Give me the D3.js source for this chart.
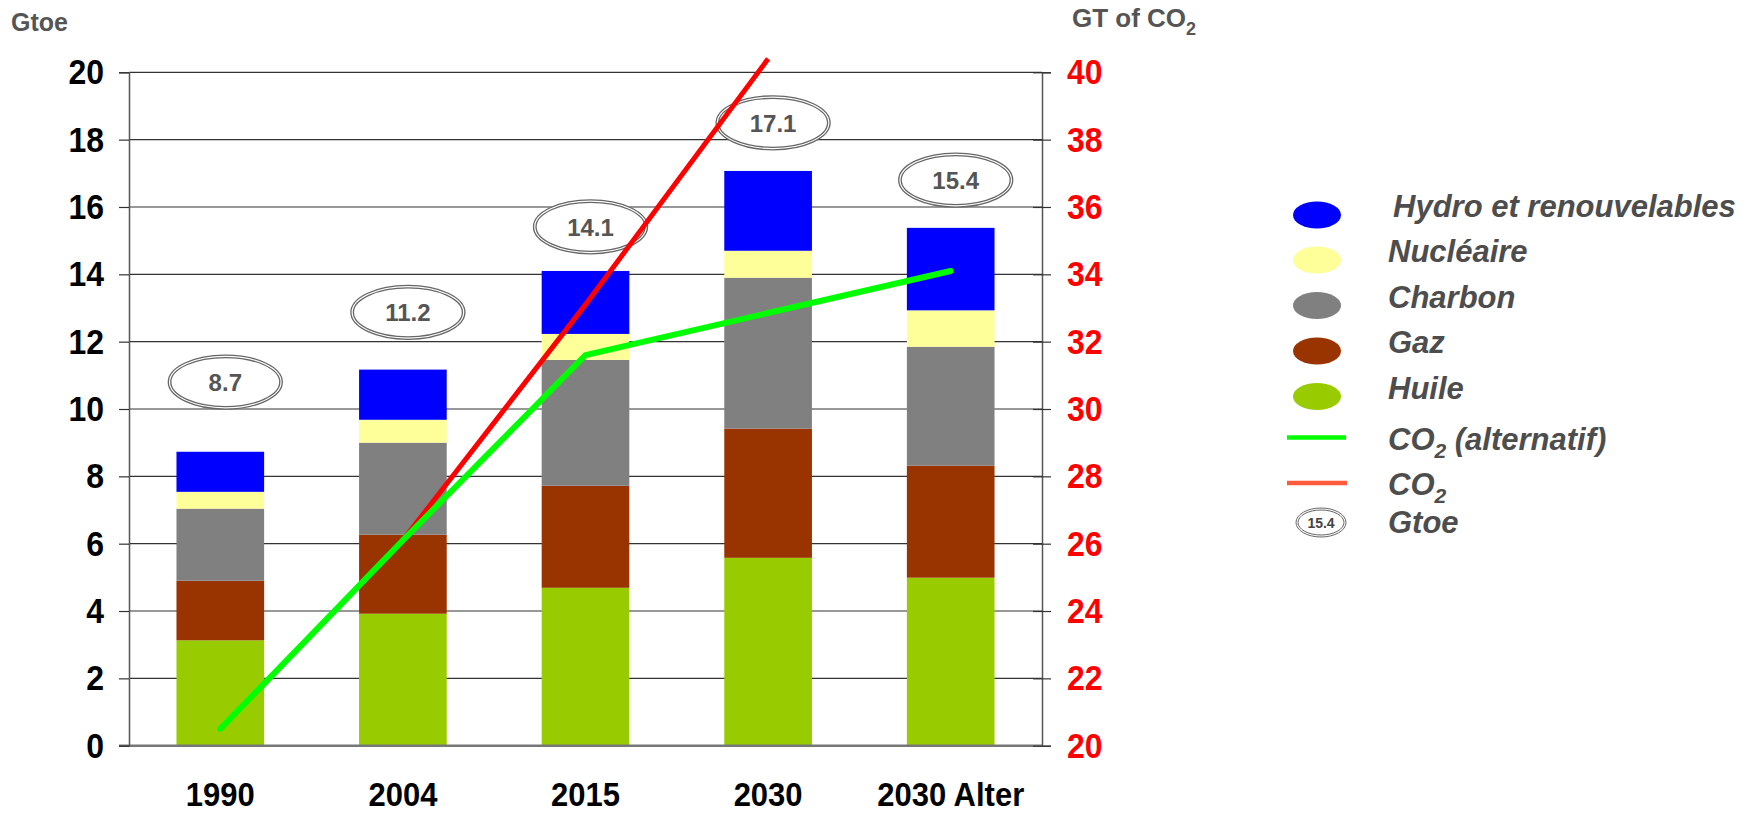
<!DOCTYPE html>
<html>
<head>
<meta charset="utf-8">
<script src="https://cdn.jsdelivr.net/npm/d3@7"></script>
<style>
  body { margin: 0; background: #fff; }
  svg text { font-family: "Liberation Sans", Arial, sans-serif; }
</style>
</head>
<body>
<script>
// Data (Gtoe per source, Gt CO2 on right axis)
var categories = ["1990", "2004", "2015", "2030", "2030 Alter"];
var huile     = [3.13, 3.92, 4.69, 5.58, 4.99];
var gaz       = [1.77, 2.35, 3.03, 3.84, 3.33];
var charbon   = [2.14, 2.73, 3.74, 4.48, 3.53];
var nucleaire = [0.50, 0.68, 0.77, 0.80, 1.08];
var hydro     = [1.19, 1.49, 1.87, 2.37, 2.45];
var totals    = [8.7, 11.2, 14.1, 17.1, 15.4];
var co2Ref    = [null, 26.1, 33.1, 40.4, null];
var co2Alt    = [20.5, 26.1, 31.6, null, 34.1];
var leftTicks  = [0, 2, 4, 6, 8, 10, 12, 14, 16, 18, 20];
var rightTicks = [20, 22, 24, 26, 28, 30, 32, 34, 36, 38, 40];

var keys = ["huile", "gaz", "charbon", "nucleaire", "hydro"];
var colors = { huile: "#99cc00", gaz: "#993300", charbon: "#808080", nucleaire: "#ffff99", hydro: "#0000ff" };

// how far the total badge sits above each bar (layout)
var badgeLift = [2.1, 1.67, 1.31, 1.4, 1.4];

var width = 1750, height = 814;
var plotLeft = 129, plotRight = 1042, plotTop = 72.3, plotBottom = 745.7;

var svg = d3.select("body").append("svg")
    .attr("width", width)
    .attr("height", height);

var x = d3.scaleBand().domain(categories).range([plotLeft, plotRight]).paddingInner(0.52).paddingOuter(0.26);
var y = d3.scaleLinear().domain([0, 20]).range([plotBottom, plotTop]);
var yR = d3.scaleLinear().domain([20, 40]).range([plotBottom, plotTop]);

var table = categories.map(function(c, i) {
    return { cat: c, huile: huile[i], gaz: gaz[i], charbon: charbon[i], nucleaire: nucleaire[i], hydro: hydro[i] };
});

/*gridlines*/
svg.append("g").selectAll("line")
    .data(leftTicks.filter(function(d) { return d > 0; }))
    .enter().append("line")
    .attr("x1", plotLeft).attr("x2", plotRight)
    .attr("y1", function(d) { return y(d); })
    .attr("y2", function(d) { return y(d); })
    .attr("stroke", "#333").attr("stroke-width", 1.2);

/*stacked bars*/
var stack = d3.stack().keys(keys)(table);
svg.append("g").selectAll("g")
    .data(stack)
    .enter().append("g")
    .attr("fill", function(d) { return colors[d.key]; })
    .selectAll("rect")
    .data(function(d) { return d; })
    .enter().append("rect")
    .attr("x", function(d) { return x(d.data.cat); })
    .attr("width", x.bandwidth())
    .attr("y", function(d) { return y(d[1]); })
    .attr("height", function(d) { return y(d[0]) - y(d[1]); });

/*baseline*/
svg.append("line")
    .attr("x1", plotLeft - 10).attr("x2", plotRight)
    .attr("y1", y(0)).attr("y2", y(0))
    .attr("stroke", "#777").attr("stroke-width", 2.5);

/*left axis*/
var axL = svg.append("g")
    .attr("transform", "translate(" + plotLeft + ",0)")
    .call(d3.axisLeft(y).tickValues(leftTicks).tickSize(10).tickPadding(15));
axL.select(".domain").attr("stroke", "#555").attr("stroke-width", 1.5);
axL.selectAll(".tick line").attr("stroke", "#333").attr("stroke-width", 1.2);
axL.selectAll("text")
    .attr("font-size", 32).attr("font-weight", "bold").attr("fill", "#000")
    .attr("font-family", "'Liberation Sans', Arial, sans-serif")
    .attr("transform", "scale(1,1.12)");

/*right axis*/
var axR = svg.append("g")
    .attr("transform", "translate(" + plotRight + ",0)")
    .call(d3.axisRight(yR).tickValues(rightTicks).tickSize(9).tickPadding(16));
axR.select(".domain").attr("stroke", "#555").attr("stroke-width", 1.5);
axR.selectAll(".tick line").attr("x1", -9).attr("stroke", "#333").attr("stroke-width", 1.2);
axR.selectAll("text")
    .attr("font-size", 32).attr("font-weight", "bold").attr("fill", "#ff0000")
    .attr("font-family", "'Liberation Sans', Arial, sans-serif")
    .attr("transform", "scale(1,1.12)");

/*category labels*/
svg.append("g").selectAll("text")
    .data(categories)
    .enter().append("text")
    .attr("transform", function(d) { return "translate(" + (x(d) + x.bandwidth() / 2) + ",806) scale(1,1.1)"; })
    .attr("text-anchor", "middle")
    .attr("font-size", 31).attr("font-weight", "bold")
    .text(function(d) { return d; });

/*total badges*/
var badges = svg.append("g").selectAll("g")
    .data(totals)
    .enter().append("g")
    .attr("transform", function(d, i) {
        return "translate(" + (x(categories[i]) + x.bandwidth() / 2 + 5) + "," + y(d + badgeLift[i]) + ")";
    });
badges.append("ellipse").attr("rx", 57).attr("ry", 27)
    .attr("fill", "#fff").attr("stroke", "#666").attr("stroke-width", 1.3);
badges.append("ellipse").attr("rx", 54.5).attr("ry", 24.5)
    .attr("fill", "none").attr("stroke", "#666").attr("stroke-width", 1.3);
badges.append("text")
    .attr("text-anchor", "middle").attr("dy", 9)
    .attr("font-size", 24).attr("font-weight", "bold").attr("fill", "#555")
    .text(function(d) { return d.toFixed(1); });

/*CO2 lines*/
var line = d3.line()
    .x(function(d) { return x(d.cat) + x.bandwidth() / 2; })
    .y(function(d) { return yR(d.v); });

function pts(arr) {
    return categories.map(function(c, i) { return { cat: c, v: arr[i] }; })
        .filter(function(d) { return d.v != null; });
}

svg.append("path").datum(pts(co2Ref))
    .attr("d", line).attr("fill", "none")
    .attr("stroke", "#ff0000").attr("stroke-width", 5);

svg.append("path").datum(pts(co2Alt))
    .attr("d", line).attr("fill", "none")
    .attr("stroke", "#00ff00").attr("stroke-width", 6)
    .attr("stroke-linecap", "round").attr("stroke-linejoin", "round");

/*axis titles*/
svg.append("text").attr("x", 11).attr("y", 31)
    .attr("font-size", 25).attr("font-weight", "bold").attr("fill", "#555")
    .text("Gtoe");
var t2 = svg.append("text").attr("x", 1072).attr("y", 27)
    .attr("font-size", 26).attr("font-weight", "bold").attr("fill", "#555");
t2.append("tspan").text("GT of CO");
t2.append("tspan").attr("font-size", 18).attr("dy", 8).text("2");

/*legend*/
var legendNames = ["Hydro et renouvelables", "Nucléaire", "Charbon", "Gaz", "Huile"];
var legendKeys = ["hydro", "nucleaire", "charbon", "gaz", "huile"];
var legendY = [215, 260, 305.5, 351, 396.5];
var lg = svg.append("g");

lg.selectAll("ellipse")
    .data(legendKeys)
    .enter().append("ellipse")
    .attr("cx", 1317).attr("cy", function(d, i) { return legendY[i]; })
    .attr("rx", 24).attr("ry", 13.5)
    .attr("fill", function(d) { return colors[d]; });

function legendText(yy) {
    return lg.append("text").attr("x", 1388).attr("y", yy)
        .attr("font-size", 31).attr("font-weight", "bold").attr("font-style", "italic")
        .attr("fill", "#4d4d4d");
}

legendNames.forEach(function(n, i) {
    legendText(legendY[i] + 2).attr("x", i == 0 ? 1393 : 1388).text(n);
});

lg.append("line").attr("x1", 1287).attr("x2", 1346).attr("y1", 437.5).attr("y2", 437.5)
    .attr("stroke", "#00ff00").attr("stroke-width", 4.5);
var ta = legendText(450);
ta.append("tspan").text("CO");
ta.append("tspan").attr("font-size", 21).attr("dy", 8).text("2");
ta.append("tspan").attr("dy", -8).text(" (alternatif)");

lg.append("line").attr("x1", 1287).attr("x2", 1347).attr("y1", 483).attr("y2", 483)
    .attr("stroke", "#ff5a3c").attr("stroke-width", 4.5);
var tb = legendText(495);
tb.append("tspan").text("CO");
tb.append("tspan").attr("font-size", 21).attr("dy", 8).text("2");

lg.append("ellipse").attr("cx", 1321).attr("cy", 522.5).attr("rx", 25).attr("ry", 14.5)
    .attr("fill", "#fff").attr("stroke", "#666").attr("stroke-width", 1);
lg.append("ellipse").attr("cx", 1321).attr("cy", 522.5).attr("rx", 23).attr("ry", 12.5)
    .attr("fill", "none").attr("stroke", "#666").attr("stroke-width", 1);
lg.append("text").attr("x", 1321).attr("y", 528).attr("text-anchor", "middle")
    .attr("font-size", 14).attr("font-weight", "bold").attr("fill", "#444")
    .text("15.4");
legendText(533).text("Gtoe");
</script>
</body>
</html>
